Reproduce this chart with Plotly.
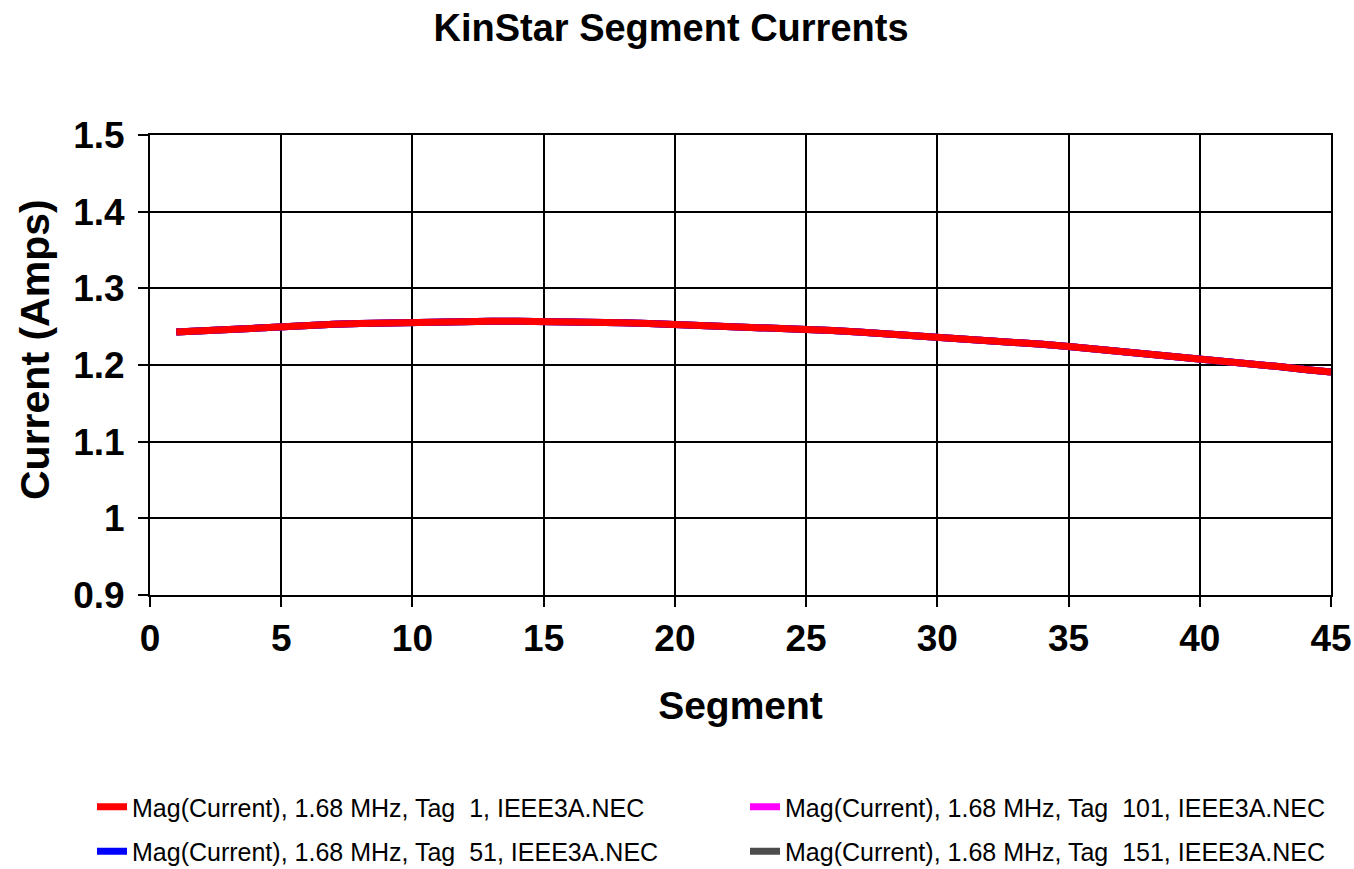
import plotly.graph_objects as go

# Segment index along each wire
segments = [1, 2, 3, 4, 5, 6, 7, 8, 9, 10, 11, 12, 13, 14, 15,
            16, 17, 18, 19, 20, 21, 22, 23, 24, 25, 26, 27, 28, 29, 30,
            31, 32, 33, 34, 35, 36, 37, 38, 39, 40, 41, 42, 43, 44, 45]

# Current magnitude (A) per segment; the four radials carry the same current
tag_1 = [1.243, 1.245, 1.247, 1.249, 1.251, 1.252, 1.253, 1.254, 1.255, 1.256,
         1.256, 1.257, 1.257, 1.257, 1.257, 1.256, 1.256, 1.255, 1.254, 1.253,
         1.252, 1.251, 1.250, 1.248, 1.247, 1.245, 1.243, 1.241, 1.239, 1.237,
         1.235, 1.232, 1.230, 1.227, 1.224, 1.221, 1.218, 1.215, 1.212, 1.208,
         1.205, 1.202, 1.198, 1.194, 1.191]
tag_51 = list(tag_1)
tag_101 = list(tag_1)
tag_151 = list(tag_1)

series_names = [
    "Mag(Current), 1.68 MHz, Tag  1, IEEE3A.NEC",
    "Mag(Current), 1.68 MHz, Tag  51, IEEE3A.NEC",
    "Mag(Current), 1.68 MHz, Tag  101, IEEE3A.NEC",
    "Mag(Current), 1.68 MHz, Tag  151, IEEE3A.NEC",
]
series_colors = ["#FF0000", "#0000FF", "#FF00FF", "#4D4D4D"]
series_values = [tag_1, tag_51, tag_101, tag_151]
# legend columns: Tag 1 / Tag 51 on the left, Tag 101 / Tag 151 on the right
series_legend = ["legend", "legend", "legend2", "legend2"]
series_rank = [1, 2, 1, 2]

y_ticks = [0.9, 1.0, 1.1, 1.2, 1.3, 1.4, 1.5]
y_tick_labels = ["0.9", "1", "1.1", "1.2", "1.3", "1.4", "1.5"]
x_ticks = [0, 5, 10, 15, 20, 25, 30, 35, 40, 45]
x_tick_labels = ["0", "5", "10", "15", "20", "25", "30", "35", "40", "45"]

FONT = "Arial, Liberation Sans, sans-serif"

# plot-area geometry in pixels
PLOT_L, PLOT_R, PLOT_T, PLOT_B = 150, 1331, 135, 595
PLOT_W = PLOT_R - PLOT_L
PLOT_H = PLOT_B - PLOT_T

fig = go.Figure()
# draw in reverse so Tag 1 ends up on top
for i in [3, 2, 1, 0]:
    fig.add_trace(go.Scatter(
        x=segments, y=series_values[i], mode="lines", name=series_names[i],
        line=dict(color=series_colors[i], width=7),
        legend=series_legend[i], legendrank=series_rank[i],
        legendgroup="g%d" % i,
    ))

legend_common = dict(
    orientation="v", xanchor="left", yanchor="middle",
    xref="paper", yref="container",
    y=1 - 829 / 869, tracegroupgap=9, traceorder="grouped",
    font=dict(family=FONT, size=25, color="#000000"),
    bgcolor="rgba(0,0,0,0)", itemwidth=30,
)

fig.update_layout(
    width=1354, height=869,
    margin=dict(l=PLOT_L, r=1354 - PLOT_R, t=PLOT_T, b=869 - PLOT_B),
    paper_bgcolor="#FFFFFF", plot_bgcolor="#FFFFFF",
    font=dict(family=FONT, color="#000000"),
    title=dict(text="<b>KinStar Segment Currents</b>",
               font=dict(family=FONT, size=38, color="#000000"),
               x=671 / 1354, xref="container", xanchor="center",
               y=0.968, yref="container", yanchor="middle"),
    legend=dict(**legend_common, x=(92 - PLOT_L) / PLOT_W),
    legend2=dict(**legend_common, x=(745 - PLOT_L) / PLOT_W),
    xaxis=dict(
        range=[0, 45], tickvals=x_ticks, ticktext=["<b>%s</b>" % t for t in x_tick_labels],
        showgrid=True, gridcolor="#000000", gridwidth=2,
        showline=True, linecolor="#000000", linewidth=2, mirror=True,
        ticks="outside", ticklen=10, tickwidth=2, tickcolor="#000000",
        tickfont=dict(family=FONT, size=37, color="#000000"),
        zeroline=False, automargin=False,
        title=dict(text="<b>Segment</b>", font=dict(family=FONT, size=39, color="#000000"),
                   standoff=33),
    ),
    yaxis=dict(
        range=[0.9, 1.5], tickvals=y_ticks, ticktext=["<b>%s</b>" % t for t in y_tick_labels],
        showgrid=True, gridcolor="#000000", gridwidth=2,
        showline=True, linecolor="#000000", linewidth=2, mirror=True,
        ticks="outside", ticklen=10, tickwidth=2, tickcolor="#000000",
        tickfont=dict(family=FONT, size=37, color="#000000"), ticklabelstandoff=6,
        zeroline=False, automargin=False,
    ),
    annotations=[dict(
        text="<b>Current (Amps)</b>", textangle=-90, showarrow=False,
        font=dict(family=FONT, size=41, color="#000000"),
        xref="paper", yref="paper",
        x=(35 - PLOT_L) / PLOT_W, y=(PLOT_B - 350) / PLOT_H,
        xanchor="center", yanchor="middle",
    )],
    showlegend=True,
)

fig.write_html("out.html")
